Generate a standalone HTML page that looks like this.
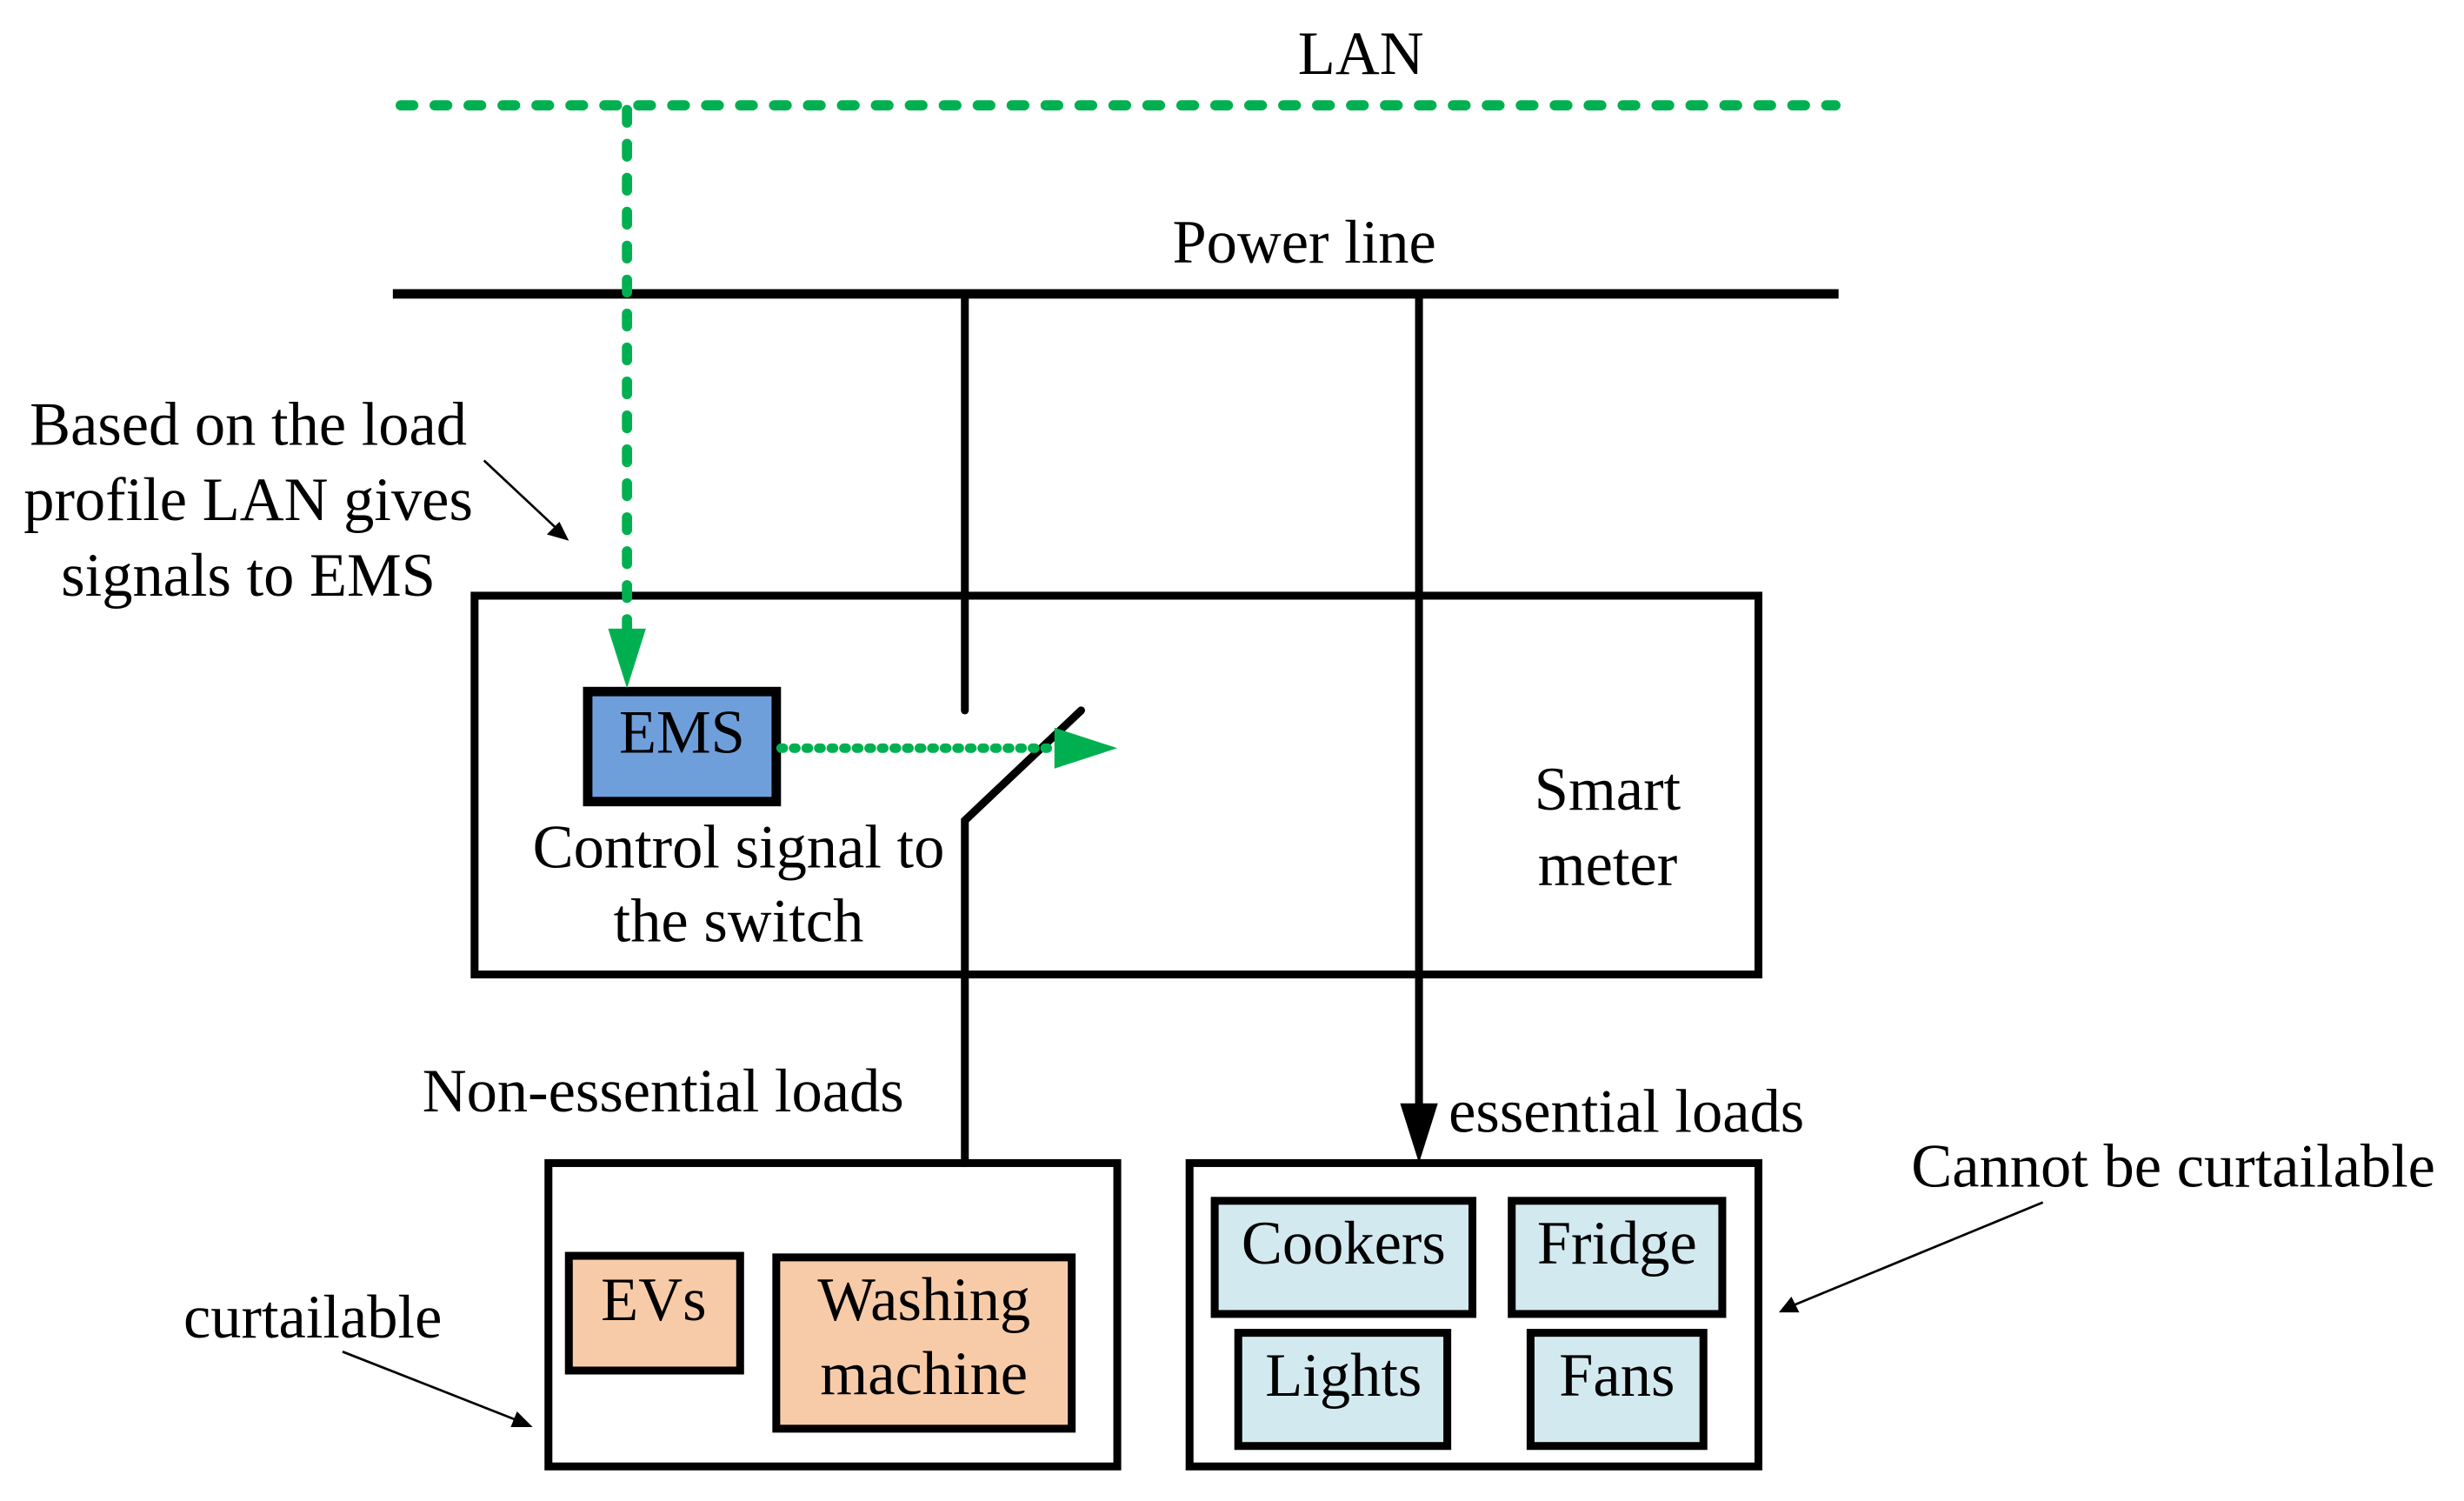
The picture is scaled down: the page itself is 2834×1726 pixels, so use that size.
<!DOCTYPE html>
<html><head><meta charset="utf-8"><style>
html,body{margin:0;padding:0;background:#fff}
svg{display:block}
text{font-family:"Liberation Serif",serif;font-size:39px;fill:#000}
</style></head><body>
<svg width="2834" height="1726" viewBox="0 0 1568 955" preserveAspectRatio="none" xmlns="http://www.w3.org/2000/svg">
<g fill="none" stroke="#000">
<line x1="250" y1="187" x2="1170" y2="187" stroke-width="6"/>
<rect x="302" y="379" width="817" height="241" stroke-width="5"/>
<line x1="614" y1="187" x2="614" y2="452" stroke-width="5" stroke-linecap="round"/>
<polyline points="688,452 614,522 614,740" stroke-width="5" stroke-linecap="round"/>
<line x1="903" y1="187" x2="903" y2="712" stroke-width="5"/>
<rect x="349" y="740" width="362" height="193" stroke-width="5"/>
<rect x="757" y="740" width="362" height="193" stroke-width="5"/>
</g>
<polygon points="891,702 915,702 903,740" fill="#000"/>
<rect x="374" y="440" width="120" height="70" fill="#6f9fdb" stroke="#000" stroke-width="6"/>
<rect x="362" y="799" width="109" height="73" fill="#f8cba8" stroke="#000" stroke-width="5"/>
<rect x="494" y="800" width="188" height="109" fill="#f8cba8" stroke="#000" stroke-width="5"/>
<rect x="773" y="764" width="164" height="72" fill="#d2e9ef" stroke="#000" stroke-width="5"/>
<rect x="962" y="764" width="134" height="72" fill="#d2e9ef" stroke="#000" stroke-width="5"/>
<rect x="788" y="848" width="133" height="72" fill="#d2e9ef" stroke="#000" stroke-width="5"/>
<rect x="974" y="848" width="110" height="72" fill="#d2e9ef" stroke="#000" stroke-width="5"/>
<g stroke="#00b050" stroke-width="6.5" stroke-linecap="round" stroke-dasharray="8,13.6" fill="none">
<line x1="255" y1="67" x2="1168" y2="67"/>
<line x1="399" y1="70" x2="399" y2="400"/>
</g>
<line x1="497" y1="476" x2="672" y2="476" stroke="#00b050" stroke-width="6" stroke-linecap="round" stroke-dasharray="1.5,6.5"/>
<polygon points="387,400 411,400 399,438" fill="#00b050"/>
<polygon points="671,463 711,476 671,489" fill="#00b050"/>
<g stroke="#000" stroke-width="1.5">
<line x1="308" y1="293" x2="355" y2="337"/>
<line x1="218" y1="860" x2="330" y2="904"/>
<line x1="1300" y1="765" x2="1140" y2="831"/>
</g>
<polygon points="362,344 348,340 356,332" fill="#000"/>
<polygon points="339,908 325,908 329,898" fill="#000"/>
<polygon points="1132,835 1140,825 1145,835" fill="#000"/>
<g text-anchor="middle">
<text x="866" y="47">LAN</text>
<text x="830" y="167">Power line</text>
<text x="158" y="283">Based on the load</text>
<text x="158" y="331">profile LAN gives</text>
<text x="158" y="379">signals to EMS</text>
<text x="434" y="479">EMS</text>
<text x="470" y="552">Control signal to</text>
<text x="470" y="599">the switch</text>
<text x="1023" y="515">Smart</text>
<text x="1023" y="563">meter</text>
<text x="422" y="707">Non-essential loads</text>
<text x="1035" y="720">essential loads</text>
<text x="1383" y="755">Cannot be curtailable</text>
<text x="199" y="851">curtailable</text>
<text x="416" y="840">EVs</text>
<text x="588" y="840">Washing</text>
<text x="588" y="887">machine</text>
<text x="855" y="804">Cookers</text>
<text x="1029" y="804">Fridge</text>
<text x="855" y="888">Lights</text>
<text x="1029" y="888">Fans</text>
</g>
</svg>
</body></html>
